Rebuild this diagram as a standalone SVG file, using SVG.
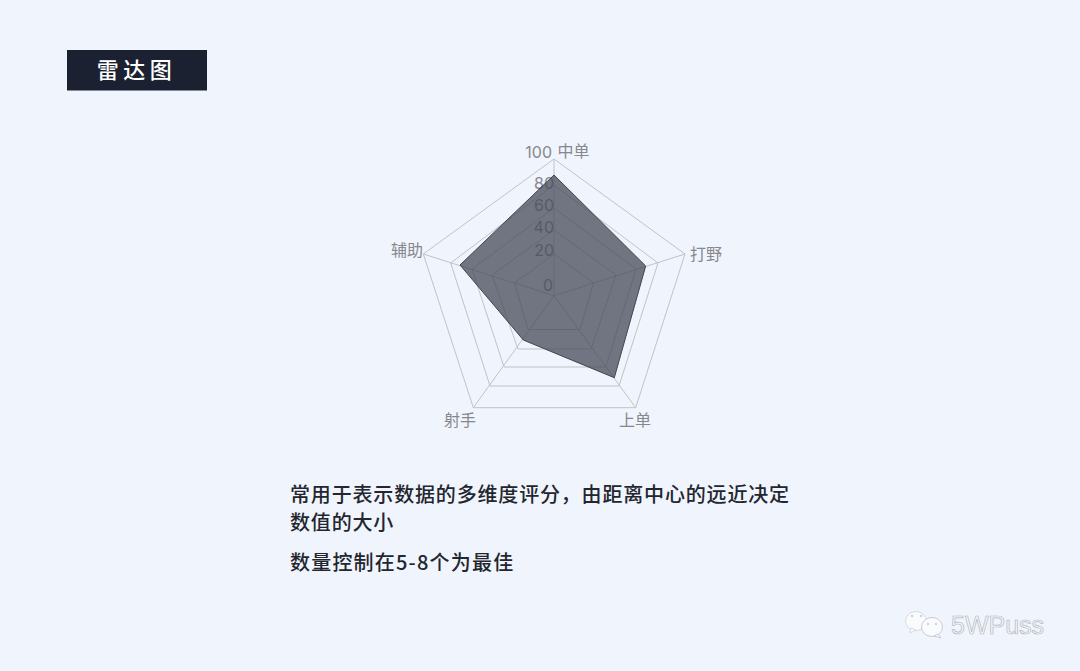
<svg xmlns="http://www.w3.org/2000/svg" width="1080" height="671" viewBox="0 0 1080 671">
<style>
text{font-family:"Noto Sans CJK SC","Noto Sans",sans-serif}
.ring{fill:none;stroke:#c0c2c8;stroke-width:1}
.ax{stroke:#c0c2c8;stroke-width:1}
.lab{font-size:16px;fill:#86888e}
.num{font-size:16px;fill:#86888e;font-family:"Inter","Liberation Sans",sans-serif;text-anchor:end}
.body{font-size:20px;fill:#23262e;font-weight:500;letter-spacing:.83px}
.eye{fill:#d0d3d9}
</style>
<rect width="1080" height="671" fill="#f0f4fc"/>
<g id="title"><rect x="67" y="50" width="140" height="40.500" fill="#1b2130"/><text x="136.500" y="78" font-size="22" font-weight="500" fill="#fff" text-anchor="middle" letter-spacing="4.500">雷达图</text></g>
<g id="chart-grid">
<polygon class="ring" points="554,159 685,254 635.700,407.700 473.300,407.700 423.300,254"/>
<polygon class="ring" points="554,185 658,263 619,386 490,386 450.700,263"/>
<polygon class="ring" points="554,208 636,269 606,367 504,367 472,269"/>
<polygon class="ring" points="554,230 616,275 591,349 518,349 492,275"/>
<polygon class="ring" points="554,254 593.500,283 580,329.500 528,329.500 514.500,283"/>
<g>
<line class="ax" x1="554" y1="295.700" x2="554" y2="159"/>
<line class="ax" x1="554" y1="295.700" x2="685" y2="254"/>
<line class="ax" x1="554" y1="295.700" x2="635.700" y2="407.700"/>
<line class="ax" x1="554" y1="295.700" x2="473.300" y2="407.700"/>
<line class="ax" x1="554" y1="295.700" x2="423.300" y2="254"/>
</g>
</g>
<g id="chart-ticks">
<text class="num" x="552" y="158">100</text>
<text class="num" x="554" y="189">80</text>
<text class="num" x="554" y="211">60</text>
<text class="num" x="554" y="233">40</text>
<text class="num" x="554" y="256">20</text>
<text class="num" x="553" y="291">0</text>
</g>
<polygon id="chart-data" points="554,175 645.700,266 614.300,377.700 523.300,340 460,265" fill="#474c59" fill-opacity=".76" stroke="#41454f" stroke-width="1"/>
<g id="chart-labels">
<text class="lab" x="557.500" y="156.500">中单</text>
<text class="lab" x="690" y="260">打野</text>
<text class="lab" x="619" y="425.500">上单</text>
<text class="lab" x="444" y="425.500">射手</text>
<text class="lab" x="391" y="255.500">辅助</text>
</g>
<g id="description">
<text class="body" x="290" y="502">常用于表示数据的多维度评分，由距离中心的远近决定</text>
<text class="body" x="290" y="530">数值的大小</text>
<text class="body" x="290" y="570" style="letter-spacing:1.2px">数量控制在5-8个为最佳</text>
</g>
<g id="watermark">
<ellipse cx="916" cy="621" rx="10.500" ry="9.500" fill="#fafbfd" stroke="#d8dbe0"/>
<path d="M911 628l-1 5 6-3z" fill="#fafbfd" stroke="#d8dbe0"/>
<circle class="eye" cx="912" cy="616" r="1.300"/><circle class="eye" cx="921" cy="616" r="1.300"/>
<ellipse cx="932" cy="627" rx="10.500" ry="9.500" fill="#fafbfd" stroke="#c9ccd2"/>
<path d="M938 634l3 4-7-2z" fill="#fafbfd" stroke="#c9ccd2"/>
<circle class="eye" cx="928" cy="624" r="1.200"/><circle class="eye" cx="936" cy="624" r="1.200"/>
<text x="951" y="634" font-size="25" fill="#f4f6fa" stroke="#b4b7bd" stroke-width=".7" style="font-family:'Liberation Sans',sans-serif">5WPuss</text>
</g>
</svg>
